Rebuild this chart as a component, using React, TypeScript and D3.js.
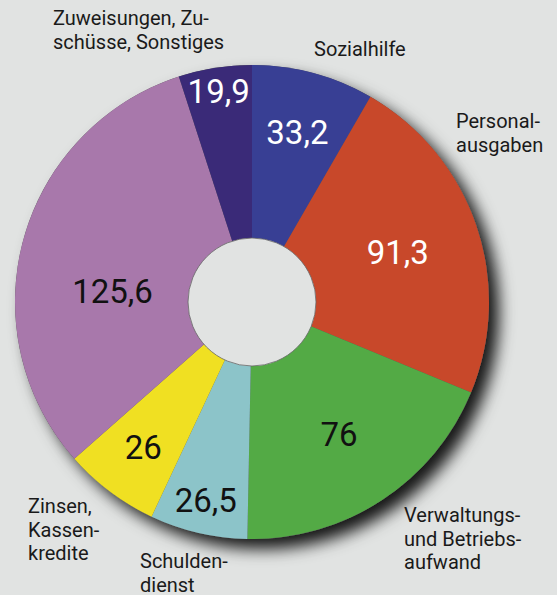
import React from "react";
import * as d3 from "d3";

const categories = [
  "Sozialhilfe",
  "Personalausgaben",
  "Verwaltungs- und Betriebsaufwand",
  "Schuldendienst",
  "Zinsen, Kassenkredite",
  "Sonstiges",
  "Zuweisungen, Zuschüsse",
];
const values = [33.2, 91.3, 76, 26.5, 26, 125.6, 19.9];
const valueLabels = ["33,2", "91,3", "76", "26,5", "26", "125,6", "19,9"];
const colors = ["#383f94", "#c8482a", "#53aa45", "#8cc4c9", "#f0e022", "#a878ab", "#3a2a78"];
const valueColors = ["#fff", "#fff", "#111", "#111", "#111", "#111", "#fff"];
const valueRadius = [0.74, 0.65, 0.67, 0.86, 0.765, 0.59, 0.9];
const valueAngleShift = [0, 0, 0, 0, 0, -11, 0];

const outerLabels: { lines: string[]; x: number; y: number }[] = [
  { lines: ["Zuweisungen, Zu-", "schüsse, Sonstiges"], x: 53, y: 25 },
  { lines: ["Sozialhilfe"], x: 314, y: 56 },
  { lines: ["Personal-", "ausgaben"], x: 456, y: 128 },
  { lines: ["Verwaltungs-", "und Betriebs-", "aufwand"], x: 404, y: 522 },
  { lines: ["Schulden-", "dienst"], x: 140, y: 568 },
  { lines: ["Zinsen,", "Kassen-", "kredite"], x: 28, y: 513 },
];

const W = 557;
const H = 595;
const cx = 252;
const cy = 302;
const R = 237;
const r0 = 64;

export default function App() {
  const pie = d3.pie<number>().sort(null).value((d) => d)(values);
  const arc = d3.arc<d3.PieArcDatum<number>>().innerRadius(0).outerRadius(R);
  const font = "Roboto, 'Open Sans', sans-serif";
  return (
    <svg width={W} height={H} style={{ position: "absolute", left: 0, top: 0 }}>
      <defs>
        <filter id="sh" x="-20%" y="-20%" width="150%" height="150%">
          <feDropShadow dx="10" dy="10" stdDeviation="8" floodColor="#000" floodOpacity="0.9" />
        </filter>
      </defs>
      <rect width={W} height={H} fill="#e1e3e2" />
      <circle cx={cx} cy={cy} r={R} fill="#555" filter="url(#sh)" />
      <g transform={`translate(${cx},${cy})`}>
        {pie.map((p, i) => (
          <path key={categories[i]} d={arc(p) || ""} fill={colors[i]} />
        ))}
        <circle r={r0} fill="#e1e3e2" stroke="#666" strokeWidth={0.8} />
        {pie.map((p, i) => {
          const a = (p.startAngle + p.endAngle) / 2 + (valueAngleShift[i] * Math.PI) / 180;
          const rr = R * valueRadius[i];
          const x = Math.sin(a) * rr;
          const y = -Math.cos(a) * rr;
          return (
            <text
              key={"v" + i}
              x={x}
              y={y}
              textAnchor="middle"
              dominantBaseline="central"
              fontFamily={font}
              fontSize={33}
              fill={valueColors[i]}
            >
              {valueLabels[i]}
            </text>
          );
        })}
      </g>
      {outerLabels.map((l, i) => (
        <text key={"l" + i} x={l.x} y={l.y} fontFamily={font} fontSize={20} fill="#1a1a1a">
          {l.lines.map((s, j) => (
            <tspan key={j} x={l.x} dy={j === 0 ? 0 : 23.5}>
              {s}
            </tspan>
          ))}
        </text>
      ))}
    </svg>
  );
}
